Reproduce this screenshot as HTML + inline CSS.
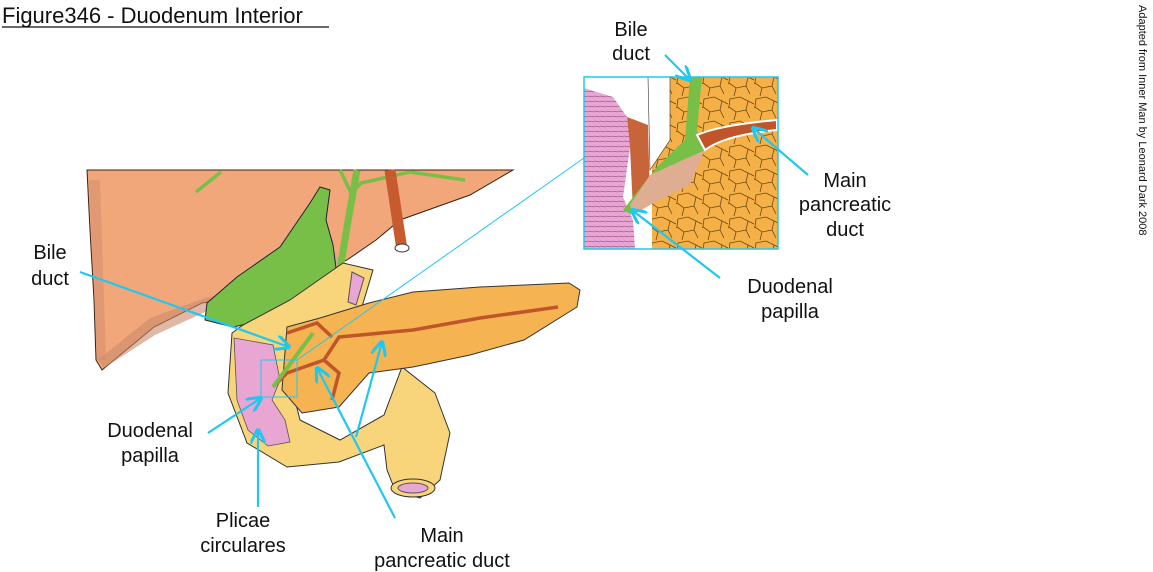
<!DOCTYPE html>
<html><head><meta charset="utf-8"><style>
html,body{margin:0;padding:0;background:#fff;}
body{width:1153px;height:572px;overflow:hidden;position:relative;font-family:"Liberation Sans",Arial,sans-serif;}
svg{position:absolute;left:0;top:0;}
</style></head><body>
<svg width="1153" height="572" viewBox="0 0 1153 572" xmlns="http://www.w3.org/2000/svg" font-family="Liberation Sans, Arial, sans-serif">
<defs>
<marker id="ar" viewBox="0 0 10 10" refX="9" refY="5" markerWidth="7" markerHeight="7" orient="auto-start-reverse">
<path d="M0,0 L10,5 L0,10" fill="none" stroke="#1ec8f0" stroke-width="2"/>
</marker>
<pattern id="fat" width="26" height="24" patternUnits="userSpaceOnUse">
<rect width="26" height="24" fill="#f5b048"/>
<path d="M2,3 L12,1 L20,5 L18,14 L8,16 L1,11 Z M20,5 L26,8 M18,14 L22,22 M8,16 L6,24 M1,11 L0,12" fill="none" stroke="#6a4a10" stroke-width="0.8"/>
</pattern>
<pattern id="musc" width="6" height="5" patternUnits="userSpaceOnUse">
<rect width="6" height="5" fill="#e9a6d4"/>
<path d="M0,1 L6,2" stroke="#7a3a66" stroke-width="0.6"/>
</pattern>
</defs>

<text x="2" y="23" font-size="22" fill="#111">Figure346 - Duodenum Interior</text>
<line x1="2" y1="27" x2="329" y2="27" stroke="#111" stroke-width="1.3"/>

<text transform="translate(1139,5) rotate(90)" font-size="11" fill="#111">Adapted from Inner Man by Leonard Dark 2008</text>

<!-- Liver -->
<path d="M87,170 L513,170 L470,195 L400,220 L376,240 L347,260 L287,287 L240,296 L202,303 L154,327 L102,370 L96,360 L94,300 L90,230 Z" fill="#f2a77a" stroke="#3a2010" stroke-width="1"/>
<path d="M98,360 L150,318 L205,298 L245,290 L290,282 L250,300 L205,312 L155,335 L104,368 Z" fill="#c98a6a" opacity="0.6"/>
<path d="M89,180 L97,360 L106,360 L100,180 Z" fill="#c98a6a" opacity="0.45"/>
<!-- tan area -->
<path d="M318,225 L339,258 L345,272 L300,285 L285,278 Z" fill="#d6a88a"/>
<!-- Gallbladder -->
<path d="M320,187 L330,190 L326,220 L333,245 L336,268 L313,293 L280,317 L233,327 L205,320 L207,303 L237,277 L280,247 L310,203 Z" fill="#78bf48" stroke="#223" stroke-width="1"/>
<!-- bile duct tree -->
<path d="M357,170 L347,227 L340,270 L313,333 L287,360 L273,387" stroke="#78bf48" stroke-width="7" fill="none"/>
<path d="M350,195 L361,183 L410,172 L465,180 M196,192 L221,172 M340,170 L352,195" stroke="#78bf48" stroke-width="3.5" fill="none"/>
<!-- vessel -->
<path d="M390,170 L402,250" stroke="#c85a30" stroke-width="11" fill="none"/>
<ellipse cx="402" cy="248" rx="7" ry="4" fill="#fff" stroke="#333"/>

<!-- Duodenum -->
<path d="M232,333 L243,325 L290,300 L343,263 L373,270 L361,310 L330,340 L300,360 L290,380 L300,420 L340,440 L384,415 L402,367 L435,393 L450,433 L440,480 L420,498 L395,490 L387,470 L384,445 L339,462 L287,467 L247,443 L228,393 Z" fill="#f8d47a" stroke="#333" stroke-width="1"/>
<ellipse cx="413" cy="488" rx="22" ry="9" fill="#f8d47a" stroke="#333"/>
<ellipse cx="413" cy="488" rx="15" ry="5" fill="#e9a6d4" stroke="#555"/>
<path d="M352,272 L364,278 L356,305 L348,302 Z" fill="#e9a6d4" stroke="#555"/>
<!-- pink interior -->
<path d="M234,338 L273,345 L280,380 L272,400 L285,420 L290,442 L268,446 L248,430 L237,400 Z" fill="#eaa6d2" stroke="#555" stroke-width="0.8"/>
<!-- Pancreas -->
<path d="M287,327 L320,318 L369,303 L413,292 L480,287 L569,283 L580,290 L577,307 L524,340 L470,355 L413,367 L369,373 L339,407 L302,413 L282,390 Z" fill="#f6b352" stroke="#333" stroke-width="1"/>
<!-- pancreatic duct -->
<path d="M558,307 L480,318 L413,330 L339,337 L324,360 L287,373 L273,387 M287,333 L317,323 L332,337 M324,360 L339,373 L332,400" stroke="#c0552a" stroke-width="3.5" fill="none"/>
<path d="M273,387 L313,333" stroke="#78bf48" stroke-width="4"/>

<!-- small box + projection line -->
<rect x="261" y="360" width="36" height="37" fill="none" stroke="#1ec8f0" stroke-width="1"/>
<line x1="297" y1="360" x2="584" y2="158" stroke="#1ec8f0" stroke-width="1"/>

<!-- Inset -->
<g>
<rect x="584" y="77" width="194" height="172" fill="url(#fat)"/>
<path d="M584,77 L652,77 L652,253 L584,253 Z" fill="#fff"/>
<path d="M584,88 L613,97 L627,117 L630,147 L623,197 L633,220 L635,249 L584,249 Z" fill="url(#musc)"/>
<path d="M627,117 L648,125 L650,200 L633,210 L630,147 Z" fill="#c8643a"/>
<path d="M648,77 L670,77 L670,140 L650,170 Z" fill="#fff" stroke="#333" stroke-width="0.6"/>
<path d="M690,77 L702,77 L697,130 L705,150 L680,175 L650,200 L633,215 L623,210 L657,167 L685,140 Z" fill="#78bf48"/>
<path d="M650,175 L705,150 L690,185 L650,205 L633,215 L630,205 Z" fill="#dfae92"/>
<path d="M697,135 Q720,125 777,120 L777,130 Q725,135 705,150 Z" fill="#c0552a" stroke="#fff" stroke-width="2"/>
<rect x="584" y="77" width="194" height="172" fill="none" stroke="#1ec8f0" stroke-width="1.5"/>
</g>

<!-- Labels -->
<g font-size="20" fill="#111" text-anchor="middle">
<text x="50" y="259">Bile</text><text x="50" y="285">duct</text>
<text x="150" y="437">Duodenal</text><text x="150" y="462">papilla</text>
<text x="243" y="527">Plicae</text><text x="243" y="552">circulares</text>
<text x="442" y="542">Main</text><text x="442" y="567">pancreatic duct</text>
<text x="631" y="36">Bile</text><text x="631" y="60">duct</text>
<text x="845" y="187">Main</text><text x="845" y="211">pancreatic</text><text x="845" y="236">duct</text>
<text x="790" y="293">Duodenal</text><text x="790" y="318">papilla</text>
</g>

<g stroke="#1ec8f0" stroke-width="2.2" fill="none" marker-end="url(#ar)">
<line x1="80" y1="272" x2="289" y2="347"/>
<line x1="208" y1="433" x2="261" y2="398"/>
<line x1="258" y1="507" x2="258" y2="430"/>
<line x1="395" y1="518" x2="317" y2="368"/>
<line x1="356" y1="437" x2="382" y2="342"/>
<line x1="665" y1="55" x2="690" y2="80"/>
<line x1="808" y1="175" x2="753" y2="128"/>
<line x1="720" y1="278" x2="632" y2="210"/>
</g>
</svg>
</body></html>
